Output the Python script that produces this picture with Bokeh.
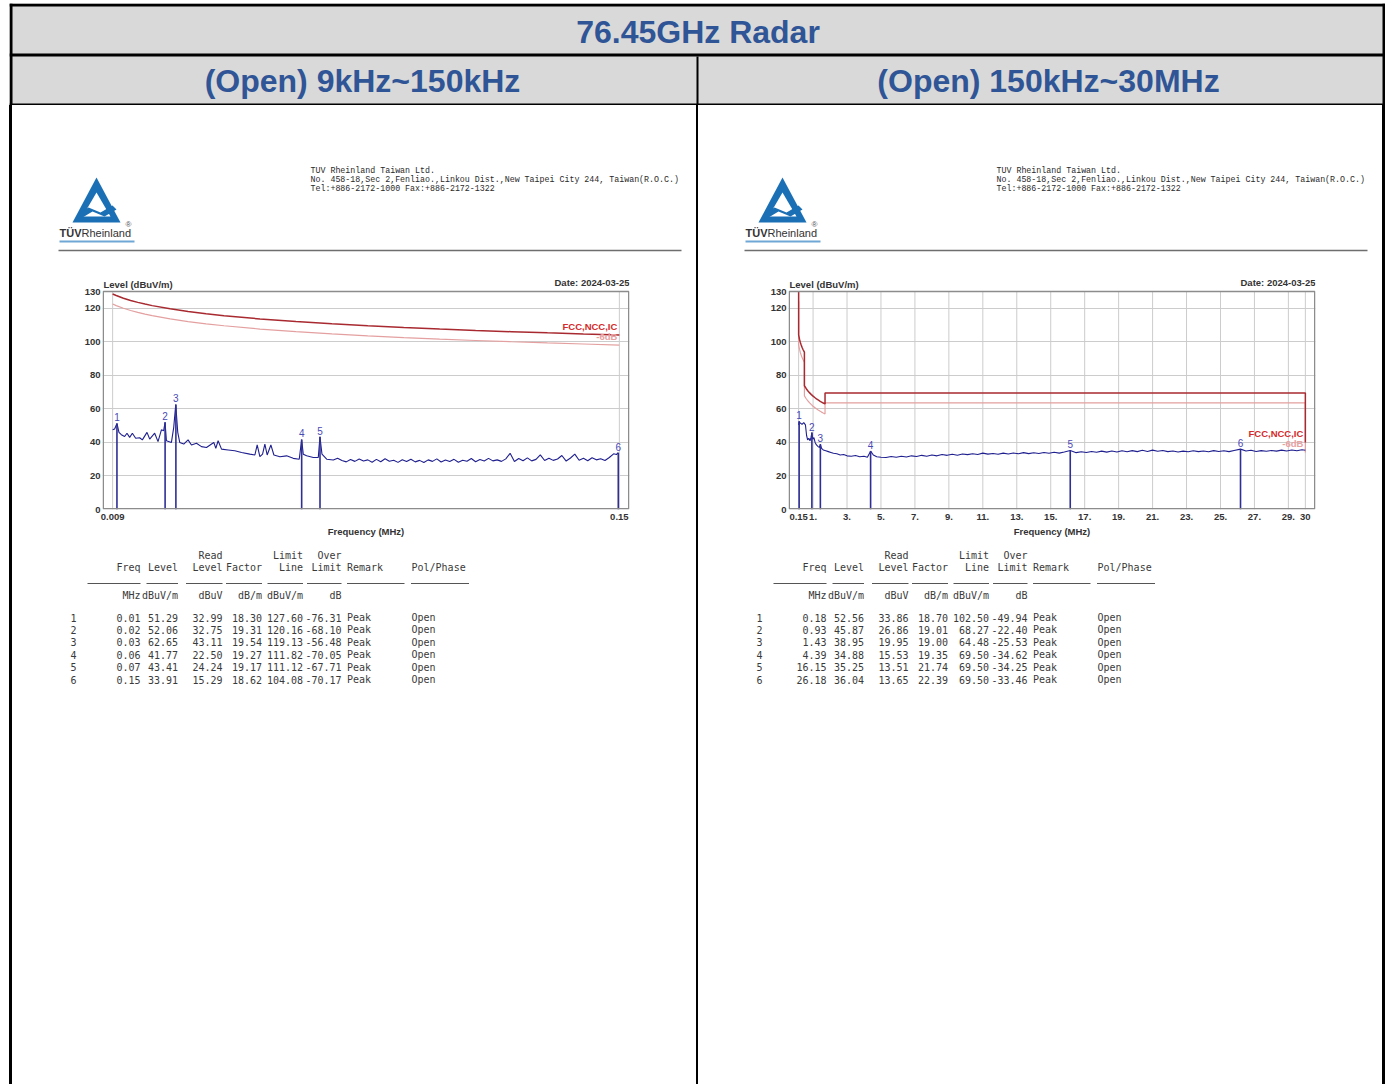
from bokeh.plotting import figure
from bokeh.layouts import column, row
from bokeh.models import Range1d, FixedTicker, CustomJSTickFormatter, Spacer, AllLabels
from bokeh.core.properties import value
from bokeh.embed import file_html
from bokeh.resources import INLINE

# ---------------- texts ----------------
TITLE = "76.45GHz Radar"
SUBTITLES = ["(Open) 9kHz~150kHz", "(Open) 150kHz~30MHz"]
COMPANY_LINES = [
    "TUV Rheinland Taiwan Ltd.",
    "No. 458-18,Sec 2,Fenliao.,Linkou Dist.,New Taipei City 244, Taiwan(R.O.C.)",
    "Tel:+886-2172-1000 Fax:+886-2172-1322",
]
DATE_TEXT = "Date: 2024-03-25"
Y_LABEL = "Level (dBuV/m)"
X_LABEL = "Frequency (MHz)"
LIMIT_NAME = "FCC,NCC,IC"
MARGIN_NAME = "-6dB"

# ---------------- left chart (9 kHz - 150 kHz) ----------------
L_XTICKS = [0.009, 0.15]
L_XLABELS = ["0.009", "0.15"]
L_TRACE_F = [0.00900, 0.00956, 0.01020, 0.01076, 0.01142, 0.01234, 0.01299, 0.01374, 0.01449, 0.01541,
             0.01652, 0.01727, 0.01856, 0.01931, 0.02070, 0.02163, 0.02257, 0.02321, 0.02358, 0.02397,
             0.02536, 0.02600, 0.02656, 0.02712, 0.02767, 0.02879, 0.02999, 0.03093, 0.03233, 0.03372,
             0.03511, 0.03715, 0.03771, 0.03835, 0.03930, 0.04113, 0.04300, 0.04487, 0.04718, 0.04858,
             0.04922, 0.04997, 0.05072, 0.05136, 0.05200, 0.05303, 0.05387, 0.05554, 0.05741, 0.05925,
             0.06092, 0.06159, 0.06204, 0.06298, 0.06483, 0.06622, 0.06669, 0.06725, 0.06856,
             0.0704, 0.0716, 0.0728, 0.0740, 0.0752, 0.0764, 0.0776, 0.0788, 0.0800, 0.0812,
             0.0824, 0.0836, 0.0848, 0.0860, 0.0872, 0.0884, 0.0896, 0.0908, 0.0920, 0.0932,
             0.0944, 0.0956, 0.0968, 0.0980, 0.0992, 0.1004, 0.1016, 0.1028, 0.1040, 0.1052,
             0.1064, 0.1076, 0.1088, 0.1100, 0.1112, 0.1124, 0.1136, 0.1148, 0.1160, 0.1172,
             0.1184, 0.1196, 0.1208, 0.1220, 0.1232, 0.1244, 0.1256, 0.1268, 0.1280, 0.1292,
             0.1304, 0.1316, 0.1328, 0.1340, 0.1352, 0.1364, 0.1376, 0.1388, 0.1400, 0.1412,
             0.1424, 0.1436, 0.1448, 0.1460, 0.1472, 0.1484, 0.1492, 0.1497]
L_TRACE_V = [47.5, 48.0, 51.3, 46.0, 44.6, 43.5, 45.5, 43.0, 45.5, 42.5,
             42.8, 41.5, 46.0, 42.0, 45.5, 40.5, 47.5, 47.0, 52.0, 41.0,
             40.0, 49.0, 62.6, 46.0, 40.0, 39.0, 41.5, 38.5, 39.5, 37.5,
             37.0, 40.0, 36.5, 41.0, 36.0, 35.5, 35.0, 34.0, 33.0, 32.5,
             38.5, 31.5, 33.0, 39.0, 32.5, 38.5, 32.5, 31.5, 32.0, 30.5,
             30.0, 41.7, 33.0, 32.0, 31.0, 31.0, 43.4, 33.0, 30.0,
             29.5, 30.6, 29.2, 28.4, 29.8, 28.7, 30.1, 28.9, 29.6, 28.2,
             29.9, 28.5, 30.3, 28.8, 29.4, 28.1, 29.7, 28.6, 30.0, 28.4,
             29.3, 28.0, 29.6, 28.7, 30.2, 28.3, 29.5, 28.6, 29.9, 28.2,
             29.4, 28.8, 30.4, 28.5, 29.8, 28.9, 30.5, 29.0, 29.6, 28.7,
             30.2, 33.5, 28.6, 30.4, 29.1, 30.8, 29.0, 29.9, 32.6, 29.2,
             30.6, 29.3, 30.1, 32.2, 28.9, 30.7, 33.0, 29.4, 30.5, 29.1,
             30.9, 29.6, 30.3, 29.2, 31.0, 33.2, 32.8, 33.9]
L_LIMIT_F = [0.009, 0.010, 0.012, 0.014, 0.016, 0.018, 0.020, 0.025, 0.030, 0.035, 0.040,
             0.050, 0.060, 0.070, 0.080, 0.090, 0.100, 0.110, 0.120, 0.130, 0.140, 0.150]
L_LIMIT_V = [128.52, 127.60, 126.02, 124.68, 123.52, 122.50, 121.58, 119.65, 118.06, 116.72, 115.56,
             113.62, 112.04, 110.70, 109.54, 108.52, 107.60, 106.78, 106.02, 105.33, 104.68, 104.08]
L_MARGIN_V = [122.52, 121.60, 120.02, 118.68, 117.52, 116.50, 115.58, 113.65, 112.06, 110.72, 109.56,
              107.62, 106.04, 104.70, 103.54, 102.52, 101.60, 100.78, 100.02, 99.33, 98.68, 98.08]
L_MARK_F = [0.0102, 0.0236, 0.0266, 0.0616, 0.0667, 0.1497]

# table (left)
L_FREQ = [0.01, 0.02, 0.03, 0.06, 0.07, 0.15]
L_LEVEL = [51.29, 52.06, 62.65, 41.77, 43.41, 33.91]
L_READ = [32.99, 32.75, 43.11, 22.50, 24.24, 15.29]
L_FACTOR = [18.30, 19.31, 19.54, 19.27, 19.17, 18.62]
L_LIMIT = [127.60, 120.16, 119.13, 111.82, 111.12, 104.08]
L_OVER = [-76.31, -68.10, -56.48, -70.05, -67.71, -70.17]

# ---------------- right chart (150 kHz - 30 MHz) ----------------
R_XTICKS = [0.15, 1, 3, 5, 7, 9, 11, 13, 15, 17, 19, 21, 23, 25, 27, 29, 30]
R_XLABELS = ["0.15", "1.", "3.", "5.", "7.", "9.", "11.", "13.", "15.", "17.", "19.", "21.",
             "23.", "25.", "27.", "29.", "30"]
R_TRACE_F = [0.15, 0.18, 0.25, 0.35, 0.45, 0.55, 0.62, 0.68, 0.75, 0.82, 0.88, 0.93, 0.98, 1.05, 1.12,
             1.2, 1.3, 1.38, 1.43, 1.5, 1.6, 1.75, 1.9, 2.05, 2.2, 2.4, 2.6, 2.8, 3.0, 3.25, 3.5, 3.75,
             4.0, 4.2, 4.39, 4.55, 4.75, 5.0, 5.3, 5.6, 5.9, 6.2, 6.5, 6.8, 7.1, 7.4, 7.7, 8.0, 8.3, 8.6,
             8.9, 9.2, 9.5, 9.8, 10.1, 10.4, 10.7, 11.0, 11.3, 11.6, 11.9, 12.2, 12.5, 12.8, 13.1, 13.4,
             13.7, 14.0, 14.3, 14.6, 14.9, 15.2, 15.5, 15.8, 16.15, 16.5, 16.8, 17.1, 17.4, 17.7, 18.0,
             18.3, 18.6, 18.9, 19.2, 19.5, 19.8, 20.1, 20.4, 20.7, 21.0, 21.3, 21.6, 21.9, 22.2, 22.5,
             22.8, 23.1, 23.4, 23.7, 24.0, 24.3, 24.6, 24.9, 25.2, 25.5, 25.8, 26.18, 26.5, 26.8, 27.1,
             27.4, 27.7, 28.0, 28.3, 28.6, 28.9, 29.2, 29.5, 29.8, 30.0]
R_TRACE_V = [50.5, 52.5, 51.5, 50.8, 51.8, 50.5, 44.0, 41.5, 42.5, 41.0, 43.0, 45.8, 42.0, 42.8, 40.0,
             38.5, 37.5, 37.0, 38.9, 36.5, 35.5, 35.0, 34.5, 34.0, 33.5, 33.2, 32.5, 32.8, 32.0, 31.8, 32.2, 31.5,
             31.8, 31.2, 34.8, 32.5, 31.5, 31.2, 31.0, 31.6, 31.2, 31.8, 31.3, 32.0, 31.6, 32.3, 31.8, 32.5, 32.0, 32.8,
             32.3, 32.9, 32.4, 33.1, 32.7, 33.2, 32.8, 33.6, 33.0, 33.4, 32.9, 33.6, 33.1, 33.7, 33.2, 33.9,
             33.3, 33.8, 33.4, 34.0, 33.5, 34.1, 33.6, 34.3, 35.2, 33.9, 34.4, 34.0, 34.6, 34.1, 34.8,
             34.2, 34.9, 34.3, 35.0, 34.4, 35.1, 34.5, 35.3, 34.6, 35.4, 34.7, 35.2, 34.5, 34.9, 34.3,
             34.8, 34.4, 35.0, 34.5, 34.9, 34.4, 35.1, 34.6, 35.0, 34.5, 35.2, 36.0, 34.9, 35.3, 34.6,
             35.1, 34.7, 35.2, 34.8, 35.4, 34.9, 35.5, 35.0, 35.6, 35.3]
R_LIMIT_F = [0.15, 0.15, 0.2, 0.25, 0.3, 0.35, 0.4, 0.45, 0.49, 0.49, 0.6, 0.7, 0.8, 0.9, 1.0, 1.1, 1.2,
             1.3, 1.4, 1.5, 1.6, 1.705, 1.705, 30.0, 30.0]
R_LIMIT_V = [130.0, 104.08, 101.58, 99.65, 98.06, 96.72, 95.56, 94.54, 93.80, 73.80, 72.04, 70.70, 69.54,
             68.52, 67.60, 66.78, 66.02, 65.33, 64.68, 64.08, 63.52, 62.97, 69.54, 69.54, 40.0]
R_MARGIN_V = [124.0, 98.08, 95.58, 93.65, 92.06, 90.72, 89.56, 88.54, 87.80, 67.80, 66.04, 64.70, 63.54,
              62.52, 61.60, 60.78, 60.02, 59.33, 58.68, 58.08, 57.52, 56.97, 63.54, 63.54, 34.0]

# table (right)
R_FREQ = [0.18, 0.93, 1.43, 4.39, 16.15, 26.18]
R_LEVEL = [52.56, 45.87, 38.95, 34.88, 35.25, 36.04]
R_READ = [33.86, 26.86, 19.95, 15.53, 13.51, 13.65]
R_FACTOR = [18.70, 19.01, 19.00, 19.35, 21.74, 22.39]
R_LIMIT = [102.50, 68.27, 64.48, 69.50, 69.50, 69.50]
R_OVER = [-49.94, -22.40, -25.53, -34.62, -34.25, -33.46]
R_MARK_F = R_FREQ

Y_MAX = 130
Y_TICKS = [0, 20, 40, 60, 80, 100, 120, 130]
Y_GRID = [20, 40, 60, 80, 100, 120]

TABLE_HEAD_RIGHT = [("Freq", 0), ("Level", 1), ("Level", 2), ("Factor", 3), ("Line", 4), ("Limit", 5)]
TABLE_HEAD_TOP = [("Read", 2), ("Limit", 4), ("Over", 5)]
TABLE_UNITS = [("MHz", 0), ("dBuV/m", 1), ("dBuV", 2), ("dB/m", 3), ("dBuV/m", 4), ("dB", 5)]
REMARK = "Peak"
POL = "Open"

# ---------------- geometry / style ----------------
PANEL_W = 684
HEAD_H, TABLE_H = 172, 544
FRAME_L, FRAME_R, FRAME_B = 90, 67, 31
BOX_H, CAPTION_H = 218, 14          # plot box height and caption strip above it (px)
CHART_H = BOX_H + CAPTION_H + FRAME_B
SANS = value("Liberation Sans")
MONO = value("DejaVu Sans Mono")
ADDR_FONT = value("Liberation Mono")
BLUE_TXT = "#2f5597"
GRAY_BG = "#d9d9d9"
BOX_COLOR = "#8c8c8c"
GRID_COLOR = "#cccccc"
LOGO_BLUE = "#1a6fb5"


def canvas(w, h, bg="white"):
    p = figure(width=w, height=h, x_range=Range1d(0, w), y_range=Range1d(h, 0),
               x_axis_type=None, y_axis_type=None, output_backend="svg",
               toolbar_location=None, min_border=0, margin=0, frame_align=False)
    p.outline_line_color = None
    p.background_fill_color = bg
    p.border_fill_color = bg
    return p


def header_fig():
    w, h = 1376, 102
    p = canvas(w, h, GRAY_BG)
    p.quad(left=[0, 0, w - 3, 0, 0, 687], right=[w, 3, w, w, w, 689],
           top=[0, 0, 0, 50, 100, 53], bottom=[3, h, h, 53, h, 102],
           fill_color="black", line_color=None)
    p.text(x=[688.5], y=[28], text=[TITLE], text_font=SANS, text_font_style="bold",
           text_font_size="32px", text_color=BLUE_TXT, text_align="center", text_baseline="middle")
    p.text(x=[353, 1039], y=[77, 77], text=SUBTITLES, text_font=SANS, text_font_style="bold",
           text_font_size="32px", text_color=BLUE_TXT, text_align="center", text_baseline="middle")
    return p


def head_panel():
    p = canvas(PANEL_W, HEAD_H)
    # logo: triangle outline with a wave band
    p.patch([60, 84, 108], [117, 72, 117], fill_color=LOGO_BLUE, line_color=None)
    p.patch([70, 84, 98], [111, 87, 111], fill_color="white", line_color=None)
    p.patch([66, 76, 88, 100, 104, 92, 80, 70], [108, 102, 107, 100, 104, 111, 106, 112],
            fill_color=LOGO_BLUE, line_color=None)
    p.text(x=[47], y=[127], text=["TÜV"], text_font=SANS, text_font_style="bold",
           text_font_size="11px", text_color="#333333", text_baseline="middle")
    p.text(x=[69], y=[127], text=["Rheinland"], text_font=SANS,
           text_font_size="11px", text_color="#333333", text_baseline="middle")
    p.text(x=[113], y=[119], text=["®"], text_font=SANS,
           text_font_size="8px", text_color="#555555", text_baseline="middle")
    p.segment(x0=[47], y0=[136], x1=[122], y1=[136], line_color="#6fa8d6", line_width=2)
    # company address
    p.text(x=[298] * 3, y=[65, 74, 83], text=COMPANY_LINES, text_font=ADDR_FONT,
           text_font_size="8.3px", text_color="#2a2a2a", text_baseline="middle")
    p.segment(x0=[46], y0=[145], x1=[669], y1=[145], line_color="#6e6e6e", line_width=1.5)
    return p


def chart(xticks, xlabels, tr_f, tr_v, lim_f, lim_v, mar_v, mk_f, mk_v):
    span = xticks[-1] - xticks[0]
    pad = span * 0.02
    x0, x1 = xticks[0] - pad, xticks[-1] + pad
    y_top = Y_MAX * (BOX_H + CAPTION_H) / BOX_H      # caption strip lives above the box
    p = figure(width=PANEL_W, height=CHART_H, x_range=Range1d(x0, x1),
               y_range=Range1d(0, y_top), output_backend="svg", toolbar_location=None,
               min_border_left=FRAME_L, min_border_right=FRAME_R, min_border_top=0,
               min_border_bottom=FRAME_B, margin=0, frame_align=False)
    p.background_fill_color = "white"
    p.border_fill_color = "white"
    p.outline_line_color = None
    p.xaxis.ticker = FixedTicker(ticks=xticks)
    p.xaxis.formatter = CustomJSTickFormatter(args=dict(tk=xticks, lb=xlabels), code="""
        for (let i = 0; i < tk.length; i++) {
            if (Math.abs(tk[i] - tick) < 1e-9) { return lb[i]; }
        }
        return '';
    """)
    p.yaxis.ticker = FixedTicker(ticks=Y_TICKS)
    p.xgrid.visible = False
    p.ygrid.ticker = FixedTicker(ticks=Y_GRID)
    p.ygrid.grid_line_color = GRID_COLOR
    p.ygrid.grid_line_width = 1
    for ax in (p.xaxis[0], p.yaxis[0]):
        ax.axis_line_color = None
        ax.major_tick_line_color = None
        ax.minor_tick_line_color = None
        ax.major_tick_out = 0
        ax.major_tick_in = 0
        ax.minor_tick_out = 0
        ax.major_label_text_font = "Liberation Sans"
        ax.major_label_text_font_style = "bold"
        ax.major_label_text_font_size = "9.5px"
        ax.major_label_text_color = "#333333"
        ax.major_label_policy = AllLabels()
    p.yaxis.major_label_standoff = 2
    p.xaxis.major_label_standoff = 4
    p.xaxis.axis_label = X_LABEL
    p.xaxis.axis_label_text_font = "Liberation Sans"
    p.xaxis.axis_label_text_font_style = "bold"
    p.xaxis.axis_label_text_font_size = "9.5px"
    p.xaxis.axis_label_text_color = "#333333"
    p.xaxis.axis_label_standoff = 3

    # vertical grid lines inside the box only
    n = len(xticks)
    p.segment(x0=xticks, y0=[0] * n, x1=xticks, y1=[Y_MAX] * n, line_color=GRID_COLOR, line_width=1)

    p.line(lim_f, mar_v, line_color="#e4a0a0", line_width=1.2)
    p.line(lim_f, lim_v, line_color="#a82a30", line_width=1.5)
    p.line(tr_f, tr_v, line_color="#1f1f8f", line_width=1.1)
    p.segment(x0=mk_f, y0=[0] * len(mk_f), x1=mk_f, y1=mk_v, line_color="#2e2e96", line_width=1.6)
    p.text(x=mk_f, y=mk_v, text=[str(i + 1) for i in range(len(mk_f))], text_font=SANS,
           text_font_size="10px", text_color="#4a4ab5", text_align="center",
           text_baseline="bottom", y_offset=-2)
    p.text(x=[lim_f[-1]], y=[lim_v[-1]], text=[LIMIT_NAME], text_font=SANS, text_font_style="bold",
           text_font_size="9.5px", text_color="#d42a2a", text_align="right", text_baseline="bottom",
           x_offset=-2, y_offset=-3)
    p.text(x=[lim_f[-1]], y=[mar_v[-1]], text=[MARGIN_NAME], text_font=SANS, text_font_style="bold",
           text_font_size="9.5px", text_color="#e8a0a0", text_align="right", text_baseline="bottom",
           x_offset=-2, y_offset=-3)

    # plot box (inset by ~0.75 px so the full stroke is visible)
    dx = (x1 - x0) / (PANEL_W - FRAME_L - FRAME_R) * 0.75
    dy = Y_MAX / BOX_H * 0.75
    p.quad(left=[x0 + dx], right=[x1 - dx], bottom=[dy], top=[Y_MAX], fill_color=None,
           line_color=BOX_COLOR, line_width=1.5)

    # captions above the box
    p.text(x=[x0], y=[Y_MAX], text=[Y_LABEL], text_font=SANS, text_font_style="bold",
           text_font_size="9.5px", text_color="#333333", text_baseline="middle", text_align="left",
           x_offset=1, y_offset=-7)
    p.text(x=[x1], y=[Y_MAX], text=[DATE_TEXT], text_font=SANS, text_font_style="bold",
           text_font_size="9.5px", text_color="#333333", text_baseline="middle", text_align="right",
           x_offset=0, y_offset=-9)
    return p


COL_R = [128, 165.5, 210, 249.5, 290.5, 329]
COL_REMARK, COL_POL, COL_IDX = 334.5, 399, 58
UNDERLINES = [(75, 128), (134, 165.5), (173.5, 210), (213.5, 249.5), (255, 290.5), (294.5, 329),
              (334.5, 392), (398.5, 456.5)]


def table_panel(cols):
    p = canvas(PANEL_W, TABLE_H)
    kw = dict(text_font=MONO, text_font_size="10px", text_color="#3a3a3a", text_baseline="middle")
    p.text(x=[COL_R[i] for _, i in TABLE_HEAD_TOP], y=[15] * len(TABLE_HEAD_TOP),
           text=[t for t, _ in TABLE_HEAD_TOP], text_align="right", **kw)
    p.text(x=[COL_R[i] for _, i in TABLE_HEAD_RIGHT], y=[27] * len(TABLE_HEAD_RIGHT),
           text=[t for t, _ in TABLE_HEAD_RIGHT], text_align="right", **kw)
    p.text(x=[COL_REMARK, COL_POL], y=[27, 27], text=["Remark", "Pol/Phase"], text_align="left", **kw)
    p.segment(x0=[a for a, _ in UNDERLINES], y0=[43] * 8, x1=[b for _, b in UNDERLINES], y1=[43] * 8,
              line_color="#555555", line_width=1)
    p.text(x=[COL_R[i] for _, i in TABLE_UNITS], y=[55] * len(TABLE_UNITS),
           text=[t for t, _ in TABLE_UNITS], text_align="right", **kw)
    n = len(cols[0])
    ys = [77 + 12.4 * k for k in range(n)]
    p.text(x=[COL_IDX] * n, y=ys, text=[str(k + 1) for k in range(n)], text_align="left", **kw)
    for ci, col in enumerate(cols):
        p.text(x=[COL_R[ci]] * n, y=ys, text=[f"{v:.2f}" for v in col], text_align="right", **kw)
    p.text(x=[COL_REMARK] * n, y=ys, text=[REMARK] * n, text_align="left", **kw)
    p.text(x=[COL_POL] * n, y=ys, text=[POL] * n, text_align="left", **kw)
    return p


left_panel = column(
    head_panel(),
    chart(L_XTICKS, L_XLABELS, L_TRACE_F, L_TRACE_V, L_LIMIT_F, L_LIMIT_V, L_MARGIN_V, L_MARK_F, L_LEVEL),
    table_panel([L_FREQ, L_LEVEL, L_READ, L_FACTOR, L_LIMIT, L_OVER]),
    spacing=0, margin=0)
right_panel = column(
    head_panel(),
    chart(R_XTICKS, R_XLABELS, R_TRACE_F, R_TRACE_V, R_LIMIT_F, R_LIMIT_V, R_MARGIN_V, R_MARK_F, R_LEVEL),
    table_panel([R_FREQ, R_LEVEL, R_READ, R_FACTOR, R_LIMIT, R_OVER]),
    spacing=0, margin=0)

BODY_H = HEAD_H + CHART_H + TABLE_H


def bar(w):
    return Spacer(width=w, height=BODY_H, margin=0, styles={"background-color": "black"})


body = row(bar(3), left_panel, bar(2), right_panel, bar(3), spacing=0, margin=0)
page = column(header_fig(), body, spacing=0, margin=(3, 0, 0, 9))

open("out.html", "w").write(file_html(page, INLINE))
